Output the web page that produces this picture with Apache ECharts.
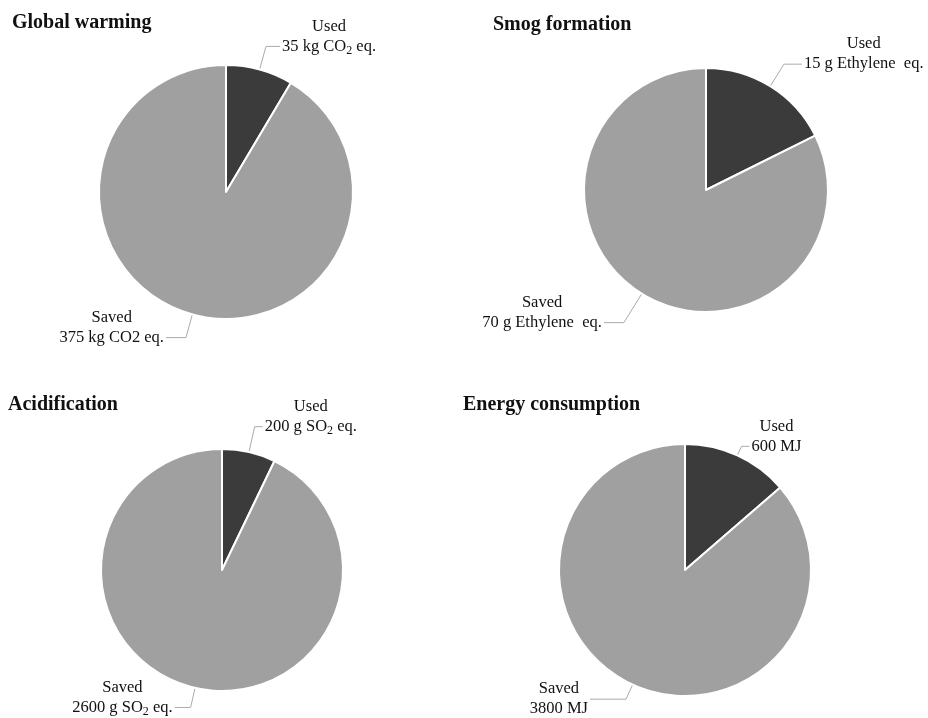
<!DOCTYPE html>
<html>
<head>
<meta charset="utf-8">
<script src="https://cdn.jsdelivr.net/npm/echarts@6/dist/echarts.min.js"></script>
<style>
  html, body { margin: 0; padding: 0; background: #ffffff; }
  #chart { width: 928px; height: 718px; }
</style>
</head>
<body>
<div id="chart"></div>
<script>
// Impact categories, one pie each
const panelTitles = ['Global warming', 'Smog formation', 'Acidification', 'Energy consumption'];
const sliceNames = ['Used', 'Saved'];
const usedValues = [35, 15, 200, 600];
const savedValues = [375, 70, 2600, 3800];
const usedUnits = ['kg CO\u2082 eq.', 'g Ethylene  eq.', 'g SO\u2082 eq.', 'MJ'];
const savedUnits = ['kg CO2 eq.', 'g Ethylene  eq.', 'g SO\u2082 eq.', 'MJ'];

// Panel layout
const pieCenters = [[226, 192], [706, 190], [222, 570], [685, 570]];
const pieRadii = [127, 122, 121, 126];
const titleSpots = [[12, 13], [493, 15], [8, 395], [463, 395]];
// leader lines: [length, length2, bottom padding] for Used, then Saved
const usedLeader = [[24, 14, 20], [26, 18, 20], [26, 8, 20], [10, 8, 20]];
const savedLeader = [[24, 20, 20], [34, 20, 20], [20, 16, 20], [16, 36, 0]];

const FONT = "'Liberation Serif', 'Times New Roman', serif";
const USED_COLOR = '#3b3b3b';
const SAVED_COLOR = '#a0a0a0';

const units = [usedUnits, savedUnits];

// Subscript digits become their own smaller, lowered rich-text run
function richLine(text) {
  return '{c|' + text.replace(/\u2082/g, '}{s|2}{c|') + '}';
}

function sliceItem(i, k) {
  const lead = k === 0 ? usedLeader[i] : savedLeader[i];
  return {
    name: sliceNames[k],
    value: k === 0 ? usedValues[i] : savedValues[i],
    itemStyle: { color: k === 0 ? USED_COLOR : SAVED_COLOR },
    label: { padding: [0, 0, lead[2], 0] },
    labelLine: { length: lead[0], length2: lead[1] }
  };
}

const series = panelTitles.map((t, i) => ({
  type: 'pie',
  name: t,
  center: pieCenters[i],
  radius: pieRadii[i],
  startAngle: 90,
  clockwise: true,
  avoidLabelOverlap: false,
  silent: true,
  animation: false,
  itemStyle: { borderColor: '#ffffff', borderWidth: 2 },
  label: {
    show: true,
    position: 'outside',
    distanceToLabelLine: 2,
    color: '#111',
    fontFamily: FONT,
    fontSize: 16.5,
    lineHeight: 20,
    formatter: p => {
      const k = p.dataIndex;
      return richLine(p.name) + '\n' + richLine(p.value + ' ' + units[k][i]);
    },
    rich: {
      c: { align: 'center', fontFamily: FONT, fontSize: 16.5, lineHeight: 20, color: '#111' },
      s: { align: 'center', fontFamily: FONT, fontSize: 12, lineHeight: 12, verticalAlign: 'bottom', color: '#111' }
    }
  },
  labelLine: { show: true, smooth: false, lineStyle: { color: '#ababab', width: 1 } },
  data: [sliceItem(i, 0), sliceItem(i, 1)]
}));

const chart = echarts.init(document.getElementById('chart'), null, { renderer: 'canvas' });
chart.setOption({
  backgroundColor: '#ffffff',
  animation: false,
  title: panelTitles.map((t, i) => ({
    text: t,
    left: titleSpots[i][0],
    top: titleSpots[i][1],
    padding: 0,
    textStyle: { fontFamily: FONT, fontWeight: 'bold', fontSize: 20, color: '#111' }
  })),
  series: series
});
</script>
</body>
</html>
